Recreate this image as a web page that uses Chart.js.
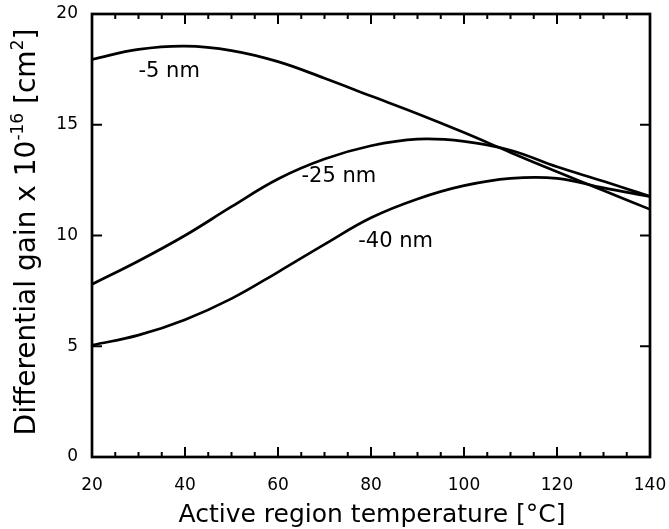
<!DOCTYPE html>
<html>
<head>
<meta charset="utf-8">
<script src="https://cdn.jsdelivr.net/npm/chart.js@4/dist/chart.umd.min.js"></script>
<style>
  html, body { margin: 0; padding: 0; background: #fff; }
  #wrap { width: 669px; height: 529px; }
</style>
</head>
<body>
<div id="wrap"><canvas id="gain-chart" width="669" height="529"></canvas></div>
<script>
var temps = [20, 30, 40, 50, 60, 70, 80, 90, 100, 110, 120, 130, 140];
var gain5 = [17.95, 18.4, 18.55, 18.35, 17.85, 17.1, 16.3, 15.5, 14.65, 13.75, 12.88, 12.03, 11.18];
var gain25 = [7.8, 8.85, 10.0, 11.3, 12.55, 13.45, 14.05, 14.35, 14.25, 13.85, 13.1, 12.45, 11.76];
var gain40 = [5.05, 5.5, 6.2, 7.15, 8.35, 9.6, 10.8, 11.65, 12.25, 12.58, 12.58, 12.15, 11.76];

var seriesNames = ['-5 nm', '-25 nm', '-40 nm'];
var labelTemps = [36.6, 73.1, 85.3];
var labelGains = [17.4, 12.66, 9.72];

var xTicks = [20, 40, 60, 80, 100, 120, 140];
var yTicks = [0, 5, 10, 15, 20];
var xTitle = 'Active region temperature [°C]';

var fontName = '"DejaVu Sans", sans-serif';

function toPoints(values) {
  var pts = [];
  for (var i = 0; i < temps.length; i++) {
    pts.push({ x: temps[i], y: values[i] });
  }
  return pts;
}

function makeSet(name, values) {
  return {
    label: name,
    data: toPoints(values),
    borderColor: '#000',
    borderWidth: 2.7,
    pointRadius: 0,
    fill: false,
    tension: 0.4
  };
}

// frame, inward ticks, curve labels and the axis titles (y one has superscripts)
var framePlugin = {
  id: 'frame',
  afterDatasetsDraw: function (chart) {
    var ctx = chart.ctx;
    var a = chart.chartArea;
    var xs = chart.scales.x;
    var ys = chart.scales.y;
    ctx.save();
    ctx.strokeStyle = '#000';
    ctx.lineWidth = 2.7;
    ctx.strokeRect(a.left, a.top, a.right - a.left, a.bottom - a.top);

    ctx.lineWidth = 2;
    ctx.beginPath();
    for (var t = 25; t < 140; t += 5) {
      var px = xs.getPixelForValue(t);
      var len = (t % 20 === 0) ? 10 : 5;
      ctx.moveTo(px, a.bottom);
      ctx.lineTo(px, a.bottom - len);
      ctx.moveTo(px, a.top);
      ctx.lineTo(px, a.top + len);
    }
    for (var j = 1; j < yTicks.length - 1; j++) {
      var py = ys.getPixelForValue(yTicks[j]);
      ctx.moveTo(a.left, py);
      ctx.lineTo(a.left + 10, py);
      ctx.moveTo(a.right, py);
      ctx.lineTo(a.right - 10, py);
    }
    ctx.stroke();

    ctx.fillStyle = '#000';
    ctx.font = '21px ' + fontName;
    ctx.textAlign = 'center';
    ctx.textBaseline = 'middle';
    for (var k = 0; k < seriesNames.length; k++) {
      ctx.fillText(seriesNames[k], xs.getPixelForValue(labelTemps[k]), ys.getPixelForValue(labelGains[k]));
    }

    // x axis title
    ctx.font = '25px ' + fontName;
    ctx.textBaseline = 'alphabetic';
    ctx.fillText(xTitle, (a.left + a.right) / 2 + 1, 522);

    // y axis title
    var parts = [
      { t: 'Differential gain x 10', sup: false },
      { t: '-16', sup: true },
      { t: ' [cm', sup: false },
      { t: '2', sup: true },
      { t: ']', sup: false }
    ];
    var big = '28px ' + fontName;
    var small = '17px ' + fontName;
    var total = 0;
    parts.forEach(function (p) {
      ctx.font = p.sup ? small : big;
      p.w = ctx.measureText(p.t).width;
      total += p.w;
    });
    ctx.translate(25, 232);
    ctx.rotate(-Math.PI / 2);
    ctx.textAlign = 'left';
    var cx = -total / 2;
    parts.forEach(function (p) {
      ctx.font = p.sup ? small : big;
      ctx.fillText(p.t, cx, p.sup ? -2 : 10);
      cx += p.w;
    });
    ctx.restore();
  }
};

var ctx = document.getElementById('gain-chart').getContext('2d');
var gainChart = new Chart(ctx, {
  type: 'line',
  data: {
    datasets: [
      makeSet(seriesNames[0], gain5),
      makeSet(seriesNames[1], gain25),
      makeSet(seriesNames[2], gain40)
    ]
  },
  options: {
    responsive: false,
    animation: false,
    layout: { padding: { top: 14, right: 0, left: 0, bottom: 0 } },
    plugins: {
      legend: { display: false },
      tooltip: { enabled: false }
    },
    scales: {
      x: {
        type: 'linear',
        min: 20,
        max: 140,
        afterBuildTicks: function (scale) {
          scale.ticks = xTicks.map(function (v) { return { value: v }; });
        },
        grid: { display: false, drawTicks: false },
        border: { display: false },
        ticks: {
          color: '#000',
          font: { family: fontName, size: 17 },
          padding: 18,
          maxRotation: 0
        },
        afterFit: function (scale) {
          scale.height = 72;
          scale.paddingLeft = 0;
          scale.paddingRight = 19;
        }
      },
      y: {
        min: 0,
        max: 20,
        afterBuildTicks: function (scale) {
          scale.ticks = yTicks.map(function (v) { return { value: v }; });
        },
        grid: { display: false, drawTicks: false },
        border: { display: false },
        ticks: {
          color: '#000',
          font: { family: fontName, size: 17 },
          padding: 14
        },
        afterFit: function (scale) {
          scale.width = 92;
          scale.paddingTop = 0;
          scale.paddingBottom = 0;
        }
      }
    }
  },
  plugins: [framePlugin]
});
</script>
</body>
</html>
